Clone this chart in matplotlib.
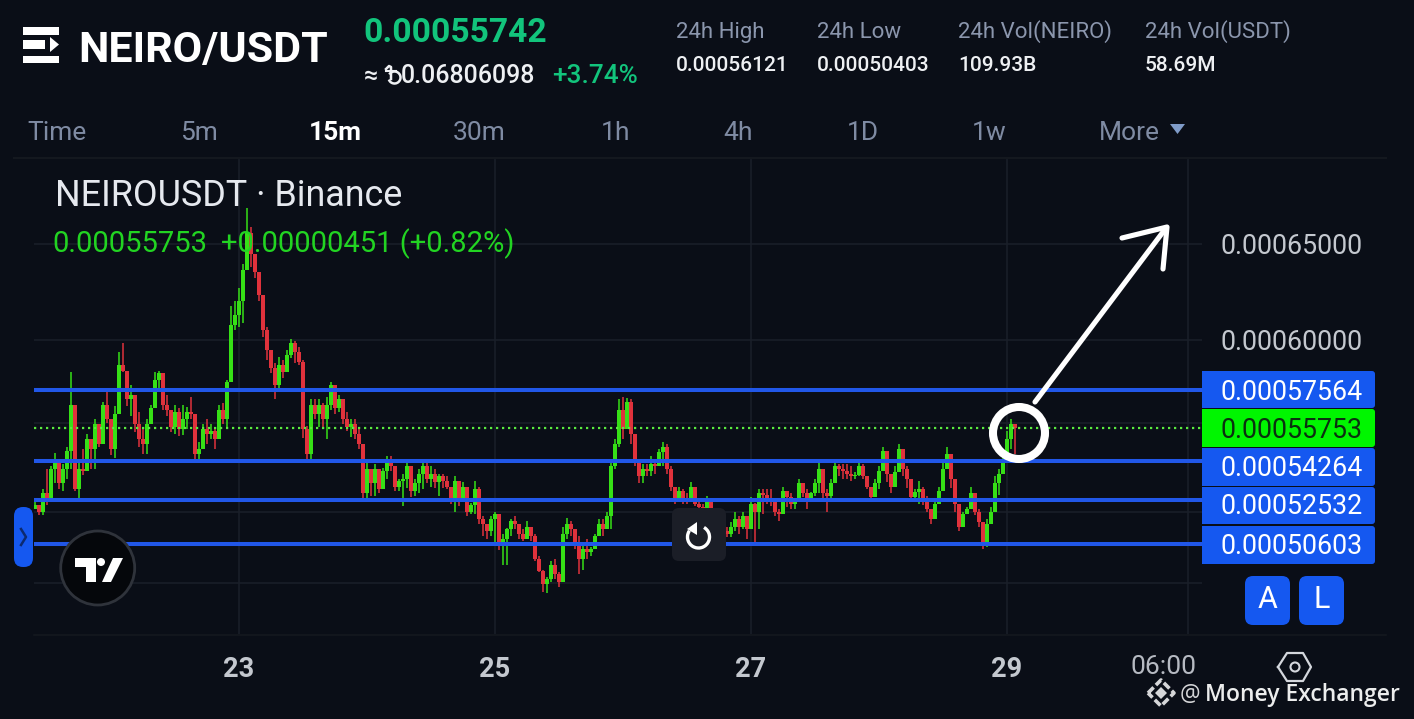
import numpy as np
import matplotlib
matplotlib.use("Agg")
import matplotlib.pyplot as plt
from matplotlib.patches import FancyBboxPatch, Circle, Polygon, Arc

UNIT = 1e-5
highs = [
 52.45,52.3,53.0,53.9,54.0,54.6,54.0,54.1,54.9,58.4,
 56.3,54.2,54.8,55.5,55.2,56.2,55.95,57.0,57.5,56.2,
 56.8,59.4,59.85,58.45,57.8,57.3,56.5,55.7,56.2,56.85,
 58.4,58.45,58.35,57.3,56.6,56.85,56.7,56.85,56.75,57.2,
 56.4,55.1,55.95,56.2,55.95,55.7,56.85,56.95,58.05,61.75,
 62.0,62.65,63.9,67.0,65.95,64.45,63.5,62.3,60.65,59.5,
 58.85,59.15,59.0,59.5,60.05,59.95,59.65,59.0,55.85,57.1,
 57.1,57.1,56.95,57.2,57.95,57.4,57.3,57.0,56.5,56.2,
 56.2,55.7,54.9,54.25,53.9,54.1,53.9,53.95,54.45,54.45,
 54.0,53.45,53.65,54.2,53.9,53.45,53.9,54.25,54.25,54.0,
 53.9,53.65,53.65,53.55,53.1,53.55,53.35,53.3,53.1,52.4,
 53.35,53.1,51.8,51.45,51.8,52.0,51.9,51.05,51.3,51.7,
 51.8,51.45,51.25,51.6,51.35,51.05,50.1,49.55,49.25,49.9,
 50.0,49.45,51.35,51.75,51.6,51.25,50.95,50.7,50.85,50.5,
 51.05,51.7,51.7,52.0,54.2,55.25,57.1,57.2,57.15,57.1,
 55.5,54.35,54.1,54.1,54.45,54.35,54.8,55.1,55.0,54.0,
 53.1,53.1,53.0,52.8,53.3,53.1,52.45,52.35,52.7,52.55,
 52.0,51.7,51.45,51.35,51.55,52.0,51.8,52.0,51.8,52.65,
 52.4,53.0,53.0,53.0,53.0,52.45,52.1,53.1,52.9,52.8,
 52.55,53.45,53.25,53.0,52.85,53.45,54.2,53.9,53.0,53.45,
 54.2,54.1,54.1,54.1,54.0,53.75,54.2,54.1,53.55,53.1,
 53.45,54.0,54.9,54.7,53.65,54.0,55.0,54.8,54.0,53.45,
 53.0,53.35,53.1,52.7,52.1,52.55,53.1,54.2,54.9,54.55,
 53.45,52.35,52.0,52.2,53.1,52.8,52.1,51.55,51.7,52.2,
 53.55,53.9,54.45,55.6,56.2,55.95,
]
lows = [
 52.1,51.85,51.85,52.3,53.0,53.25,53.0,52.9,53.45,53.9,
 52.9,52.55,53.6,54.0,53.9,53.9,54.9,55.0,56.0,54.5,
 54.4,56.4,58.4,56.8,56.3,55.55,54.9,54.55,54.55,55.95,
 56.7,57.55,56.6,56.3,55.55,55.5,55.4,55.45,55.7,56.2,
 54.25,54.35,54.8,55.0,55.25,54.8,55.25,55.95,55.8,57.95,
 60.5,60.65,60.85,63.6,63.75,63.2,62.0,60.15,59.0,58.35,
 57.1,57.55,58.15,58.4,59.1,58.85,58.75,55.3,54.25,54.35,
 56.2,55.8,55.8,55.25,56.6,56.4,56.5,55.95,55.6,55.35,
 55.25,54.8,52.55,52.45,52.7,52.7,52.8,53.05,53.45,53.8,
 52.9,52.9,52.25,53.05,52.65,52.7,52.8,53.0,53.25,53.1,
 53.05,52.7,53.05,53.0,52.35,52.0,52.25,52.45,51.8,51.9,
 51.9,51.45,50.95,50.85,50.95,50.55,50.35,49.75,49.75,50.95,
 51.25,50.85,50.75,50.85,50.75,49.9,49.45,48.65,48.6,49.05,
 49.15,48.85,49.05,50.85,50.95,50.4,49.35,49.55,50.0,50.1,
 50.4,50.95,50.95,51.25,51.25,53.9,54.9,55.25,55.7,55.0,
 54.0,53.25,53.25,53.55,53.55,53.65,54.0,54.0,53.65,52.9,
 52.35,52.45,52.35,52.35,52.45,52.25,52.0,52.0,52.1,51.7,
 51.35,51.05,50.85,50.9,50.9,51.15,51.05,51.25,50.85,51.25,
 50.6,51.25,51.9,52.35,52.25,51.8,51.6,51.9,52.2,52.1,
 52.1,52.45,52.65,52.1,52.55,52.7,52.8,52.45,52.0,52.45,
 53.25,53.55,53.45,53.45,53.35,53.45,53.55,53.45,53.0,52.55,
 52.65,53.0,53.9,53.3,52.8,53.1,53.9,53.55,53.05,52.45,
 52.55,52.35,52.3,52.0,51.45,51.7,52.35,52.9,53.9,53.05,
 52.0,51.15,51.35,51.9,52.1,51.85,51.35,50.4,50.5,51.45,
 52.0,52.75,53.65,54.25,54.8,54.55,
]
closes = [
 52.3,52.0,52.8,52.55,53.9,54.35,53.25,53.9,54.7,56.85,
 53.0,53.9,53.8,55.25,54.8,55.95,55.0,56.85,56.2,54.8,
 56.4,58.75,58.45,57.1,57.3,55.95,55.25,55.0,55.95,56.7,
 58.05,58.35,56.85,56.6,55.8,56.5,55.7,56.2,56.5,56.4,
 54.55,54.8,55.7,55.5,55.6,55.25,56.6,56.2,57.95,60.75,
 61.25,62.0,63.6,65.6,64.45,63.5,62.3,60.5,59.5,58.6,
 57.8,58.75,58.4,59.25,59.85,59.4,58.9,55.7,54.55,56.85,
 56.4,56.85,56.2,56.85,57.8,56.7,57.1,56.2,55.8,55.95,
 55.5,55.0,52.8,53.9,53.25,53.9,53.0,53.8,54.25,54.0,
 53.1,53.35,53.45,54.0,52.9,53.25,53.65,54.0,53.45,53.65,
 53.3,53.55,53.35,53.1,52.55,53.35,52.55,53.1,52.0,52.3,
 53.0,51.7,51.45,51.15,51.7,51.9,50.6,50.85,51.25,51.6,
 51.45,51.05,50.85,51.35,50.95,50.0,49.5,48.95,49.15,49.75,
 49.35,49.05,51.05,51.45,51.25,50.6,50.0,50.4,50.3,50.4,
 50.95,51.45,51.25,51.8,54.0,55.0,56.6,55.7,57.0,55.5,
 54.35,53.55,53.9,53.8,54.1,54.0,54.65,54.9,53.9,53.1,
 52.55,52.9,52.55,52.45,53.1,52.35,52.2,52.1,52.55,51.9,
 51.45,51.25,51.15,51.05,51.35,51.7,51.35,51.8,51.25,52.35,
 52.0,52.8,52.75,52.55,52.45,52.0,51.9,52.9,52.65,52.35,
 52.45,53.25,52.8,52.55,52.8,53.25,53.9,52.8,52.7,53.25,
 54.0,53.9,53.8,53.65,53.55,53.6,54.0,53.55,53.1,52.65,
 53.25,53.8,54.7,53.65,53.1,53.75,54.8,53.9,53.45,52.65,
 52.85,53.0,52.45,52.1,51.7,52.35,52.9,53.9,54.55,53.45,
 52.35,51.35,51.9,52.1,52.8,52.0,51.55,50.6,51.45,52.0,
 53.25,53.65,54.25,55.25,55.95,55.75,
]
first_open = 52.1
first_day = 21.406
candles_per_day = 32

level_prices = [0.00057564, 0.00054264, 0.00052532, 0.00050603]
last_price = 0.00055753
tick_prices = [0.00049, 0.00052, 0.00056, 0.00060, 0.00065]
labelled_prices = [0.00060, 0.00065]
day_ticks = [23, 25, 27, 29]
grid_six = 30.414

tabs = ["Time", "5m", "15m", "30m", "1h", "4h", "1D", "1w", "More"]
tab_x = [27, 180, 309, 453, 601, 723, 847, 972, 1099]
stats = [("24h High", "0.00056121"), ("24h Low", "0.00050403"),
         ("24h Vol(NEIRO)", "109.93B"), ("24h Vol(USDT)", "58.69M")]
stat_x = [676, 817, 958, 1145]

W, H = 1414, 719
BG = "#0a0e17"
GRID = "#1a1f2a"
GREEN = "#36e016"
RED = "#e0323c"
BLUE = "#2157e8"
BOX = "#1558f0"
FONT = ["Roboto", "DejaVu Sans"]
plt.rcParams["font.family"] = FONT

fig = plt.figure(figsize=(W / 100, H / 100), dpi=100, facecolor=BG)
L, R, T, B = 34, 1202, 158, 634
ax = fig.add_axes([L / W, 1 - B / H, (R - L) / W, (B - T) / H], facecolor=BG)
ax.set_yscale("log")
ax.set_xlim(23 - (239 - L) / 128, 23 + (R - 239) / 128)
ax.set_ylim(0.0006 * np.exp((340 - B) / 1200), 0.0006 * np.exp((340 - T) / 1200))
for s in ax.spines.values():
    s.set_visible(False)

c = np.array(closes) * UNIT
h = np.array(highs) * UNIT
l = np.array(lows) * UNIT
o = np.r_[first_open * UNIT, c[:-1]]
days = first_day + np.arange(len(c)) / candles_per_day
up = c >= o
cols = np.where(up, GREEN, RED)

ax.set_axisbelow(True)
ax.vlines(day_ticks + [grid_six], 0, 1, transform=ax.get_xaxis_transform(), color=GRID, lw=1.1, zorder=1)
ax.hlines(tick_prices, 0, 1, transform=ax.get_yaxis_transform(), color=GRID, lw=1.1, zorder=1)
ax.vlines(days, l, h, color=cols, lw=1.1, zorder=3)
ax.bar(days, np.abs(c - o), bottom=np.minimum(o, c), width=3.3 / 128, color=cols, linewidth=0, zorder=3)
ax.hlines(level_prices, 0, 1, transform=ax.get_yaxis_transform(), color=BLUE, lw=2.9, zorder=4)
ax.hlines([last_price], 0, 1, transform=ax.get_yaxis_transform(), color="#5aea40", lw=1.6,
          linestyles=[(0, (1, 1.7))], zorder=5)

ax.minorticks_off()
ax.yaxis.tick_right()
ax.set_yticks(tick_prices)
ax.set_yticklabels([f"{v:.8f}" if v in labelled_prices else "" for v in tick_prices])
ax.tick_params(axis="y", length=0, pad=13, labelsize=19.3, labelcolor="#c4c8cf")
ax.set_xticks(day_ticks)
ax.set_xticklabels([str(d) for d in day_ticks], fontweight="bold")
ax.tick_params(axis="x", length=0, pad=15.5, labelsize=19.5, labelcolor="#c4c8cf")

ui = fig.add_axes([0, 0, 1, 1], facecolor="none")
ui.set_xlim(0, W)
ui.set_ylim(H, 0)
ui.axis("off")

def txt(x, y, s, size, color, weight="normal", ha="left", va="baseline", family=FONT):
    return ui.text(x, y, s, fontsize=size, color=color, fontweight=weight, ha=ha, va=va, family=family)

def rbox(x0, y0, x1, y1, color, rad=4, z=6):
    ui.add_patch(FancyBboxPatch((x0 + rad, y0 + rad), x1 - x0 - 2 * rad, y1 - y0 - 2 * rad,
                                boxstyle=f"round,pad={rad},rounding_size={rad}", fc=color, ec="none", zorder=z))

# frame lines
ui.plot([14, 1386], [158, 158], color="#14181f", lw=1.5)
ui.plot([34, 1386], [635, 635], color="#14181f", lw=1.2)

# header
for y0, y1, x1 in [(27, 34.5, 59), (40, 49, 45), (56, 63, 59)]:
    ui.fill([23, x1, x1, 23], [y0, y0, y1, y1], color="white", lw=0)
ui.fill([50, 59, 50], [37, 44.5, 52], color="white", lw=0)
txt(78, 62, "NEIRO/USDT", 31, "white", "bold")
txt(363, 42, "0.00055742", 24.2, "#12c47c", "bold")
txt(364, 83, "≈", 18, "#eef0f3", "medium")
# the taka sign is in no installed family, so it is drawn as a shape
taka = "#eef0f3"
ui.plot([386, 389, 391, 391], [69, 66, 67, 79], color=taka, lw=1.8)
ui.plot([386, 396], [71, 71], color=taka, lw=1.5)
ui.add_patch(Arc((394.5, 77.5), 12, 12, theta1=-150, theta2=160, color=taka, lw=1.8))
txt(401, 83, "0.06806098", 18, "#eef0f3", "medium")
txt(552, 83, "+3.74%", 18.8, "#12c47c", "medium")
for x, (a, b) in zip(stat_x, stats):
    txt(x, 38, a, 16, "#8b96ad")
    txt(x, 71, b, 15, "#eef0f3", "medium")
for x, s in zip(tab_x, tabs):
    active = s == "15m"
    txt(x, 140, s, 19, "white" if active else "#7f8ba3", "bold" if active else "normal")
ui.fill([1170, 1185, 1177.5], [124, 124, 134], color="#7f9bc8", lw=0)

# chart header
txt(55, 206, "NEIROUSDT · Binance", 25.8, "#e6e9ef")
txt(52, 252, "0.00055753", 21, "#22d422")
txt(221, 252, "+0.00000451 (+0.82%)", 21, "#22d422")

# price boxes
boxes = [("0.00057564", 371, 408, BOX, "white", 392), ("0.00054264", 448, 486, BOX, "white", 469),
         ("0.00052532", 487, 524, BOX, "white", 507), ("0.00050603", 526, 564, BOX, "white", 547),
         ("0.00055753", 409, 447, "#00f600", "#0b3010", 430)]
for s, y0, y1, fc, tc, yc in boxes:
    rbox(1202, y0, 1375, y1, fc, rad=3)
    ui.fill([1202, 1208, 1208, 1202], [y0, y0, y1, y1], color=fc, lw=0, zorder=6)
    txt(1221, yc, s, 19.3, tc, va="center", ha="left").set_zorder(7)
for x0, x1, s in [(1245, 1290, "A"), (1299, 1344, "L")]:
    rbox(x0, 576, x1, 625, BOX, rad=8)
    txt((x0 + x1) / 2, 600, s, 22, "white", ha="center", va="center").set_zorder(7)

# axis extras
txt(1164, 674, "06:00", 19, "#b6bac2", ha="center")
hx = [1278, 1287, 1303, 1311, 1303, 1287, 1278]
hy = [667, 653, 653, 667, 681, 681, 667]
ui.plot(hx, hy, color="#d4d7dd", lw=1.6)
ui.add_patch(Circle((1295, 667), 4.5, fc="none", ec="#d4d7dd", lw=1.5))

# left handle
rbox(14, 507, 33, 567, "#1558f0", rad=9)
ui.plot([21, 26, 21], [529, 537, 545], color="#0c2a70", lw=1.8, zorder=7)

# TradingView badge
ui.add_patch(Circle((97.7, 568), 37, fc="#05070b", ec="#2f333b", lw=2, zorder=6))
ui.add_patch(Polygon([(75, 558), (96, 558), (96, 582), (86, 582), (86, 567), (75, 567)], fc="white", ec="none", zorder=7))
ui.add_patch(Circle((101, 562), 4, fc="white", ec="none", zorder=7))
ui.add_patch(Polygon([(113, 558), (123, 558), (111, 582), (102, 582)], fc="white", ec="none", zorder=7))

# reload button
rbox(672, 508, 726, 561, "#1b1e27", rad=7)
ui.add_patch(Arc((698.5, 537), 22, 22, theta1=-60, theta2=215, color="white", lw=2.4, zorder=7))
ui.fill([697, 697, 687], [522, 535, 529], color="white", lw=0, zorder=7)

# hand-drawn annotation
ui.add_patch(Circle((1019, 433), 26, fc="none", ec="white", lw=5.8, zorder=8))
ui.plot([1035, 1166], [402, 228], color="white", lw=3.7, solid_capstyle="round", zorder=8)
ui.plot([1122, 1167, 1163], [238, 227, 269], color="white", lw=3.7, solid_capstyle="round",
        solid_joinstyle="round", zorder=8)

# watermark
ui.plot([1148, 1161, 1174, 1161, 1148], [693, 680, 693, 706, 693], color="#d5d6d8", lw=2.6,
        linestyle=(0, (2.2, 0.9)), zorder=8)
ui.add_patch(Polygon([(1155, 693), (1161, 687), (1167, 693), (1161, 699)], fc="#d5d6d8", ec="none", zorder=8))
txt(1180, 701, "@", 16.5, "#d5d6d8", family=["Open Sans", "DejaVu Sans"])
txt(1205, 701, "Money Exchanger", 16.5, "#eceded", "semibold", family=["Open Sans", "DejaVu Sans"])

fig.savefig("out.png", dpi=100, facecolor=BG)
